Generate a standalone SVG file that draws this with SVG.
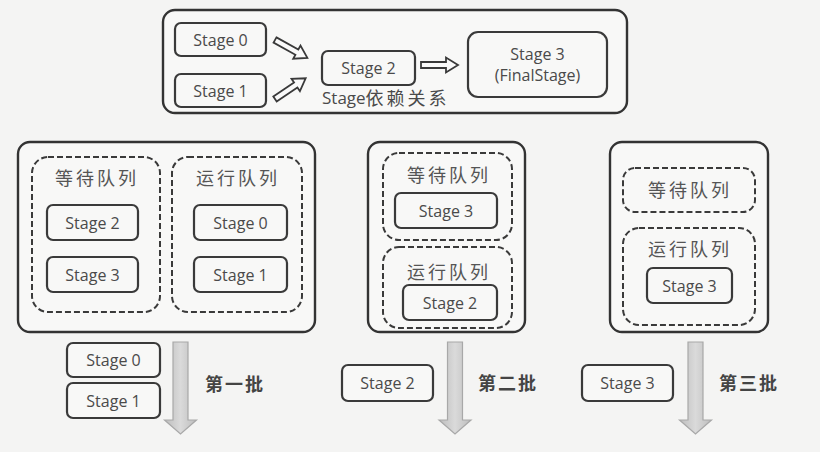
<svg xmlns="http://www.w3.org/2000/svg" width="820" height="452" viewBox="0 0 820 452">
<style>
.bg{fill:#f4f4f3}
.box{fill:#f8f8f7;stroke:#3a3a3a;stroke-width:2.2}
.outer{fill:#f8f8f7;stroke:#333;stroke-width:2.4}
.dash{fill:none;stroke:#3a3a3a;stroke-width:2;stroke-dasharray:6 3}
.t{font-family:"Open Sans","Liberation Sans",sans-serif;font-size:16px;fill:#4a4a4a;text-anchor:middle;dominant-baseline:central}
.c{font-family:"Noto Sans CJK SC",sans-serif;font-size:18px;letter-spacing:3px;fill:#555;text-anchor:middle;dominant-baseline:central}
.cb{font-family:"Noto Sans CJK SC",sans-serif;font-size:18px;letter-spacing:2px;font-weight:bold;fill:#444;dominant-baseline:central}
.hollow{fill:#fafafa;stroke:#3a3a3a;stroke-width:1.8;stroke-linejoin:miter}
.down{fill:url(#g);stroke:#a8a8a8;stroke-width:1.2}
</style>
<defs>
<linearGradient id="g" x1="0" y1="0" x2="1" y2="0">
<stop offset="0" stop-color="#bdbdbd"/><stop offset="0.5" stop-color="#dadada"/><stop offset="1" stop-color="#bdbdbd"/>
</linearGradient>
<path id="ha" d="M0,-3 H25 V-7.5 L37,0 L25,7.5 V3 H0 Z"/>
<path id="da" d="M-7.5,0 H7.5 V78 H16 L0,92 L-16,78 H-7.5 Z"/>
</defs>
<rect class="bg" x="0" y="0" width="820" height="452"/>

<g id="dependency-panel">
<rect class="outer" x="163" y="10" width="464" height="103" rx="12"/>
<text class="t" x="322" y="97" style="text-anchor:start;font-size:17px">Stage<tspan font-family="Noto Sans CJK SC" font-size="18" letter-spacing="3">依赖关系</tspan></text>
</g>
<g id="dep-stage0"><rect class="box" x="175" y="23" width="91" height="33" rx="6"/><text class="t" x="220.5" y="39.5">Stage 0</text></g>
<g id="dep-stage1"><rect class="box" x="175" y="74" width="91" height="33" rx="6"/><text class="t" x="220.5" y="90.5">Stage 1</text></g>
<g id="dep-stage2"><rect class="box" x="322" y="51" width="93" height="34" rx="6"/><text class="t" x="368.5" y="68">Stage 2</text></g>
<g id="dep-stage3"><rect class="box" x="468" y="32" width="139" height="65" rx="10"/><text class="t" x="537.5" y="54">Stage 3</text><text class="t" x="537.5" y="75">(FinalStage)</text></g>

<g id="batch1-panel">
<rect class="outer" x="18" y="142" width="297" height="190" rx="12"/>
<rect class="dash" x="32" y="157" width="128" height="155" rx="16"/>
<text class="c" x="97" y="177">等待队列</text>
<rect class="dash" x="172" y="157" width="130" height="155" rx="16"/>
<text class="c" x="238" y="177">运行队列</text>
</g>
<g id="b1-wait-stage2"><rect class="box" x="47" y="205" width="91" height="35" rx="6"/><text class="t" x="92.5" y="222.5">Stage 2</text></g>
<g id="b1-wait-stage3"><rect class="box" x="47" y="257" width="91" height="35" rx="6"/><text class="t" x="92.5" y="274.5">Stage 3</text></g>
<g id="b1-run-stage0"><rect class="box" x="194" y="205" width="93" height="35" rx="6"/><text class="t" x="240.5" y="222.5">Stage 0</text></g>
<g id="b1-run-stage1"><rect class="box" x="194" y="257" width="93" height="35" rx="6"/><text class="t" x="240.5" y="274.5">Stage 1</text></g>

<g id="batch2-panel">
<rect class="outer" x="368" y="142" width="157" height="190" rx="12"/>
<rect class="dash" x="383" y="153" width="129" height="87" rx="16"/>
<text class="c" x="449" y="174">等待队列</text>
<rect class="dash" x="383" y="247" width="129" height="81" rx="16"/>
<text class="c" x="449" y="271">运行队列</text>
</g>
<g id="b2-wait-stage3"><rect class="box" x="395" y="193" width="102" height="35" rx="6"/><text class="t" x="446" y="210.5">Stage 3</text></g>
<g id="b2-run-stage2"><rect class="box" x="403" y="285" width="94" height="35" rx="6"/><text class="t" x="450" y="302.5">Stage 2</text></g>

<g id="batch3-panel">
<rect class="outer" x="610" y="142" width="158" height="190" rx="12"/>
<rect class="dash" x="623" y="168" width="132" height="44" rx="12"/>
<text class="c" x="690" y="189">等待队列</text>
<rect class="dash" x="623" y="228" width="132" height="97" rx="16"/>
<text class="c" x="690" y="248">运行队列</text>
</g>
<g id="b3-run-stage3"><rect class="box" x="647" y="268" width="85" height="35" rx="6"/><text class="t" x="689.5" y="285.5">Stage 3</text></g>

<g id="out-stage0"><rect class="box" x="67" y="343" width="93" height="34" rx="6"/><text class="t" x="113.5" y="360">Stage 0</text></g>
<g id="out-stage1"><rect class="box" x="67" y="383" width="93" height="35" rx="6"/><text class="t" x="113.5" y="400.5">Stage 1</text></g>
<g id="out-stage2"><rect class="box" x="342" y="365" width="91" height="36" rx="6"/><text class="t" x="387.5" y="383">Stage 2</text></g>
<g id="out-stage3"><rect class="box" x="582" y="365" width="91" height="36" rx="6"/><text class="t" x="627.5" y="383">Stage 3</text></g>
<g id="label-batch1"><text class="cb" x="205" y="383">第一批</text></g>
<g id="label-batch2"><text class="cb" x="478" y="382">第二批</text></g>
<g id="label-batch3"><text class="cb" x="719" y="382">第三批</text></g>

<g id="connectors">
<use href="#ha" class="hollow" transform="translate(275,40) rotate(29)"/>
<use href="#ha" class="hollow" transform="translate(275,99) rotate(-34)"/>
<use href="#ha" class="hollow" transform="translate(421,65)"/>
<use href="#da" class="down" transform="translate(180.5,342)"/>
<use href="#da" class="down" transform="translate(455,342)"/>
<use href="#da" class="down" transform="translate(695.5,342)"/>
</g>
</svg>
